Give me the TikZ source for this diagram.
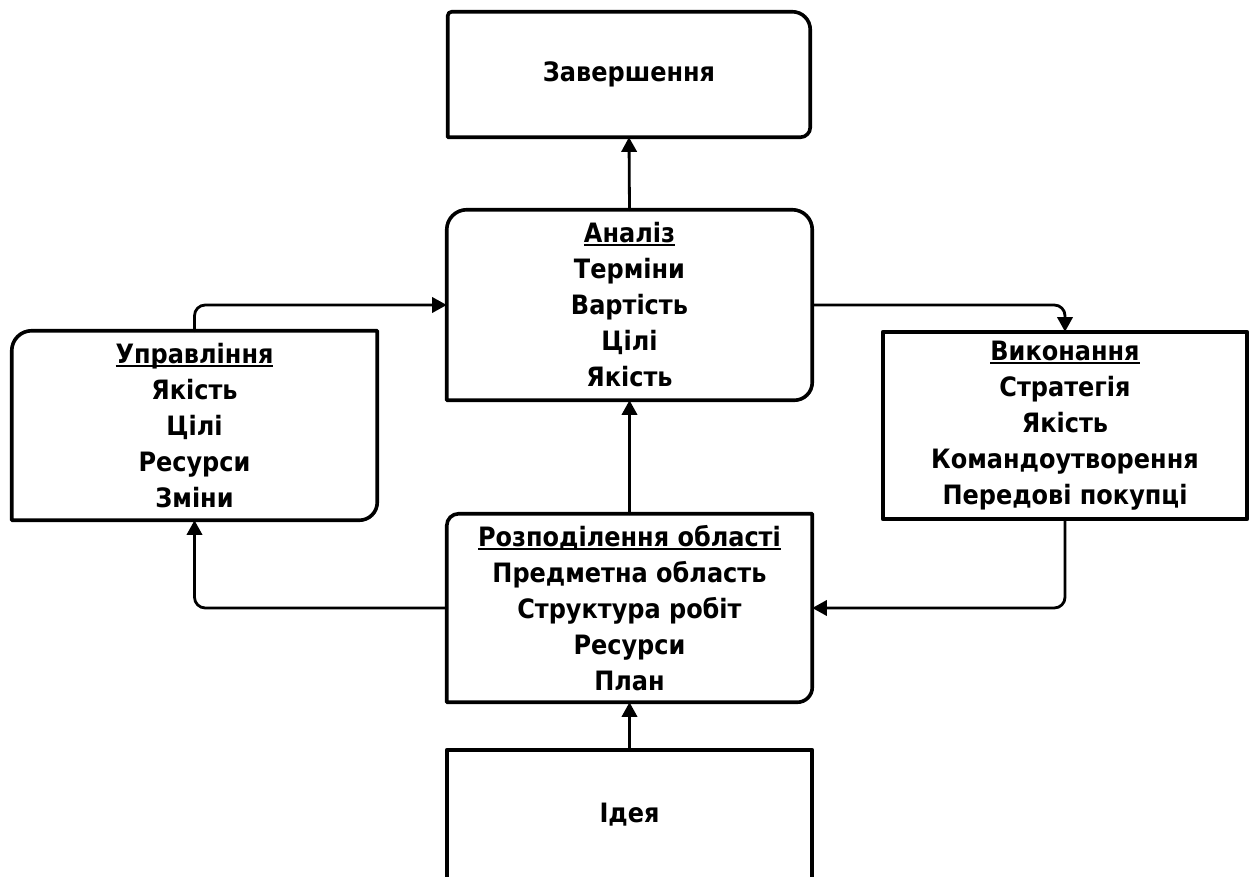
\documentclass[tikz,border=0pt]{standalone}
\usepackage{fontspec}
\setmainfont{DejaVu Sans Condensed}
\usetikzlibrary{arrows.meta,calc}
% underlined heading line
\newcommand\hdr[1]{\setbox0\hbox{#1}\rlap{\rule[-0.13em]{\wd0}{0.075em}}\box0}
\tikzset{
  boxtext/.style={font=\fontsize{20pt}{27pt}\selectfont\bfseries, align=center, inner sep=0pt},
  outline/.style={line width=2.7pt, line join=round, line cap=round},
  link/.style={line width=2.1pt, -{Triangle[length=11pt,width=11.5pt]}, rounded corners=8pt, line cap=round}
}
\begin{document}
\begin{tikzpicture}[x=0.75pt, y=0.75pt]
\useasboundingbox (0,0) rectangle (1257,876);
\clip (0,0) rectangle (1257,876);
\fill[white] (0,0) rectangle (1257,876);

% stage boxes
\node[boxtext, minimum width=271.5pt, minimum height=93.75pt] (zv) at (629,801.5) {Завершення};
\node[boxtext, minimum width=273.75pt, minimum height=142.5pt] (an) at (629.5,571) {\hdr{Аналіз}\\Терміни\\Вартість\\Цілі\\Якість};
\node[boxtext, minimum width=273.75pt, minimum height=141.75pt] (up) at (194.5,450.5) {\hdr{Управління}\\Якість\\Цілі\\Ресурси\\Зміни};
\node[boxtext, minimum width=273pt, minimum height=140.25pt] (vk) at (1065,450.5) {\hdr{Виконання}\\Стратегія\\Якість\\Командоутворення\\Передові покупці};
\node[boxtext, minimum width=273.75pt, minimum height=141pt] (rz) at (629.5,268) {\hdr{Розподілення області}\\Предметна область\\Структура робіт\\Ресурси\\План};
\node[boxtext, minimum width=273.75pt, minimum height=97.5pt] (id) at (629.5,61) {Ідея};

% outlines
\draw[outline] (zv.south west) -- ($(zv.north west)+(0,-4)$) to[out=90,in=180] ($(zv.north west)+(4,0)$)
  -- ($(zv.north east)+(-18,0)$) to[out=0,in=90] ($(zv.north east)+(0,-18)$)
  -- ($(zv.south east)+(0,10)$) to[out=-90,in=0] ($(zv.south east)+(-10,0)$) -- cycle;
\draw[outline] (an.south west) -- ($(an.north west)+(0,-20)$) to[out=90,in=180] ($(an.north west)+(20,0)$)
  -- ($(an.north east)+(-20,0)$) to[out=0,in=90] ($(an.north east)+(0,-20)$)
  -- ($(an.south east)+(0,18)$) to[out=-90,in=0] ($(an.south east)+(-18,0)$) -- cycle;
\draw[outline] (up.south west) -- ($(up.north west)+(0,-20)$) to[out=90,in=180] ($(up.north west)+(20,0)$)
  -- (up.north east) -- ($(up.south east)+(0,18)$) to[out=-90,in=0] ($(up.south east)+(-18,0)$) -- cycle;
\draw[outline] (vk.south west) rectangle (vk.north east);
\draw[outline] (rz.south west) -- ($(rz.north west)+(0,-12)$) to[out=90,in=180] ($(rz.north west)+(12,0)$)
  -- (rz.north east) -- ($(rz.south east)+(0,15)$) to[out=-90,in=0] ($(rz.south east)+(-15,0)$) -- cycle;
\draw[outline] (id.south west) -- (id.north west) -- (id.north east) -- (id.south east);

% flow between stages
\draw[link] (id.north) -- (rz.south);
\draw[link] (rz.north) -- (an.south);
\draw[link] (an.north) -- (zv.south);
\draw[link] (up.north) |- (an.west);
\draw[link] (an.east) -| (vk.north);
\draw[link] (rz.west) -| (up.south);
\draw[link] (vk.south) |- (rz.east);
\end{tikzpicture}
\end{document}
